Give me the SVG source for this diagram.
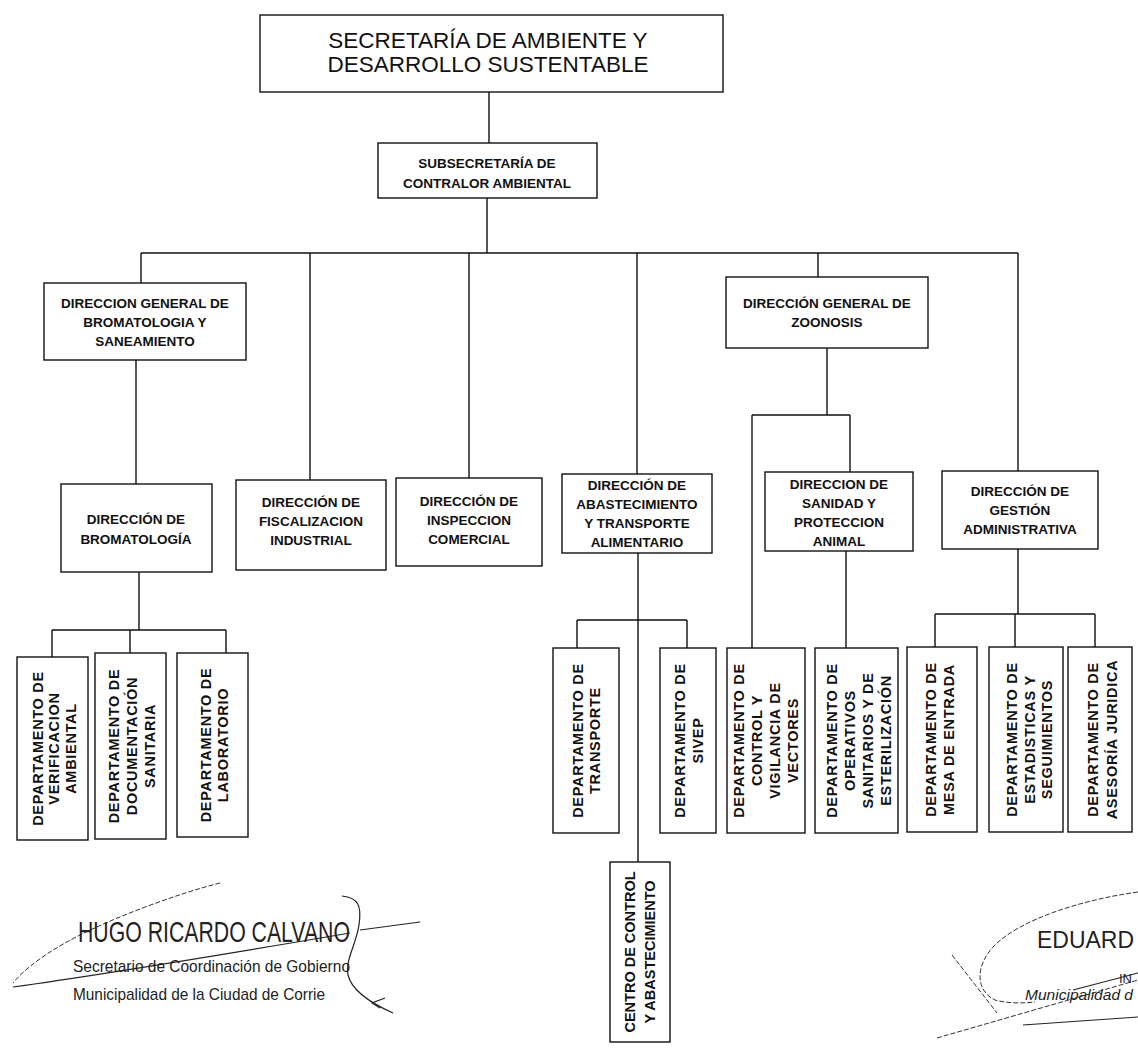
<svg xmlns="http://www.w3.org/2000/svg" width="1138" height="1048" viewBox="0 0 1138 1048">
<style>
.box{fill:#fff;stroke:#111;stroke-width:1.4}
.c{fill:none;stroke:#111;stroke-width:1.4}
.t{font-family:"Liberation Sans",Arial,sans-serif;font-weight:bold;font-size:13.5px;text-anchor:middle;fill:#111}
.v{font-size:14.5px;letter-spacing:0.7px}
.ti{font-family:"Liberation Sans",Arial,sans-serif;font-size:22.5px;text-anchor:middle;fill:#111}
.sg{font-family:"Liberation Sans",Arial,sans-serif;fill:#222}
.s{fill:none;stroke:#222;stroke-width:1.2}
.sd{fill:none;stroke:#333;stroke-width:1;stroke-dasharray:5 2}
</style>
<rect width="1138" height="1048" fill="#fff"/>
<g id="connectors">
<path class="c" d="M489,92 V143"/>
<path class="c" d="M487,198 V253"/>
<path class="c" d="M141,253 H1018"/>
<path class="c" d="M141,253 V283"/>
<path class="c" d="M310,253 V480"/>
<path class="c" d="M469,253 V478"/>
<path class="c" d="M637,253 V474"/>
<path class="c" d="M818,253 V277"/>
<path class="c" d="M1018,253 V471"/>
<path class="c" d="M136,360 V484"/>
<path class="c" d="M139,572 V630 M52,630 H226 M52,630 V657 M130,630 V653 M226,630 V653"/>
<path class="c" d="M638,553 V862 M577,620 H687 M577,620 V648 M687,620 V648"/>
<path class="c" d="M827,348 V415 M752,415 H850 M752,415 V648 M850,415 V472"/>
<path class="c" d="M846,551 V648"/>
<path class="c" d="M1018,549 V614 M935,614 H1095 M935,614 V647 M1015,614 V647 M1095,614 V647"/>
</g>
<g id="secretaria">
<rect class="box" x="260" y="15" width="463" height="77"/>
<text class="ti" x="488" y="48">SECRETARÍA DE AMBIENTE Y</text>
<text class="ti" x="488" y="72">DESARROLLO SUSTENTABLE</text>
</g>
<g id="subsecretaria">
<rect class="box" x="378" y="143" width="219" height="55"/>
<text class="t" x="487" y="168">SUBSECRETARÍA DE</text>
<text class="t" x="487" y="188">CONTRALOR AMBIENTAL</text>
</g>
<g id="dg-bromatologia">
<rect class="box" x="44" y="283" width="202" height="77"/>
<text class="t" x="145" y="308">DIRECCION GENERAL DE</text>
<text class="t" x="145" y="327">BROMATOLOGIA Y</text>
<text class="t" x="145" y="346">SANEAMIENTO</text>
</g>
<g id="dg-zoonosis">
<rect class="box" x="726" y="277" width="202" height="71"/>
<text class="t" x="827" y="308">DIRECCIÓN GENERAL DE</text>
<text class="t" x="827" y="327">ZOONOSIS</text>
</g>
<g id="dir-bromatologia">
<rect class="box" x="61" y="484" width="151" height="88"/>
<text class="t" x="136" y="524">DIRECCIÓN DE</text>
<text class="t" x="136" y="544">BROMATOLOGÍA</text>
</g>
<g id="dir-fiscalizacion">
<rect class="box" x="236" y="480" width="150" height="90"/>
<text class="t" x="311" y="507">DIRECCIÓN DE</text>
<text class="t" x="311" y="526">FISCALIZACION</text>
<text class="t" x="311" y="545">INDUSTRIAL</text>
</g>
<g id="dir-inspeccion">
<rect class="box" x="396" y="478" width="146" height="88"/>
<text class="t" x="469" y="506">DIRECCIÓN DE</text>
<text class="t" x="469" y="525">INSPECCION</text>
<text class="t" x="469" y="544">COMERCIAL</text>
</g>
<g id="dir-abastecimiento">
<rect class="box" x="562" y="474" width="150" height="79"/>
<text class="t" x="637" y="490">DIRECCIÓN DE</text>
<text class="t" x="637" y="509">ABASTECIMIENTO</text>
<text class="t" x="637" y="528">Y TRANSPORTE</text>
<text class="t" x="637" y="547">ALIMENTARIO</text>
</g>
<g id="dir-sanidad">
<rect class="box" x="765" y="472" width="148" height="79"/>
<text class="t" x="839" y="489">DIRECCION DE</text>
<text class="t" x="839" y="508">SANIDAD Y</text>
<text class="t" x="839" y="527">PROTECCION</text>
<text class="t" x="839" y="546">ANIMAL</text>
</g>
<g id="dir-gestion">
<rect class="box" x="942" y="471" width="156" height="78"/>
<text class="t" x="1020" y="496">DIRECCIÓN DE</text>
<text class="t" x="1020" y="515">GESTIÓN</text>
<text class="t" x="1020" y="534">ADMINISTRATIVA</text>
</g>
<g id="dep-verificacion">
<rect class="box" x="17" y="657" width="71" height="183"/>
<g transform="translate(52.5,748.5) rotate(-90)"><text class="t v" y="-10">DEPARTAMENTO DE</text><text class="t v" y="6">VERIFICACION</text><text class="t v" y="23">AMBIENTAL</text></g>
</g>
<g id="dep-documentacion">
<rect class="box" x="95" y="653" width="71" height="186"/>
<g transform="translate(130.5,746) rotate(-90)"><text class="t v" y="-12">DEPARTAMENTO DE</text><text class="t v" y="6">DOCUMENTACIÓN</text><text class="t v" y="24">SANITARIA</text></g>
</g>
<g id="dep-laboratorio">
<rect class="box" x="177" y="653" width="71" height="184"/>
<g transform="translate(212.5,745) rotate(-90)"><text class="t v" y="-2">DEPARTAMENTO DE</text><text class="t v" y="15">LABORATORIO</text></g>
</g>
<g id="dep-transporte">
<rect class="box" x="553" y="648" width="66" height="185"/>
<g transform="translate(586,740.5) rotate(-90)"><text class="t v" y="-3">DEPARTAMENTO DE</text><text class="t v" y="14">TRANSPORTE</text></g>
</g>
<g id="dep-sivep">
<rect class="box" x="660" y="648" width="56" height="185"/>
<g transform="translate(688,740.5) rotate(-90)"><text class="t v" y="-3">DEPARTAMENTO DE</text><text class="t v" y="15">SIVEP</text></g>
</g>
<g id="dep-control-vectores">
<rect class="box" x="727" y="648" width="78" height="185"/>
<g transform="translate(766,740.5) rotate(-90)"><text class="t v" y="-22">DEPARTAMENTO DE</text><text class="t v" y="-4">CONTROL Y</text><text class="t v" y="14">VIGILANCIA DE</text><text class="t v" y="32">VECTORES</text></g>
</g>
<g id="dep-operativos">
<rect class="box" x="815" y="648" width="83" height="185"/>
<g transform="translate(856.5,740.5) rotate(-90)"><text class="t v" y="-20">DEPARTAMENTO DE</text><text class="t v" y="-2">OPERATIVOS</text><text class="t v" y="16">SANITARIOS Y DE</text><text class="t v" y="34">ESTERILIZACIÓN</text></g>
</g>
<g id="dep-mesa">
<rect class="box" x="907" y="647" width="70" height="185"/>
<g transform="translate(942,739.5) rotate(-90)"><text class="t v" y="-6">DEPARTAMENTO DE</text><text class="t v" y="12">MESA DE ENTRADA</text></g>
</g>
<g id="dep-estadisticas">
<rect class="box" x="989" y="647" width="74" height="185"/>
<g transform="translate(1026,739.5) rotate(-90)"><text class="t v" y="-9">DEPARTAMENTO DE</text><text class="t v" y="9">ESTADISTICAS Y</text><text class="t v" y="26">SEGUIMIENTOS</text></g>
</g>
<g id="dep-asesoria">
<rect class="box" x="1068" y="647" width="64" height="185"/>
<g transform="translate(1100,739.5) rotate(-90)"><text class="t v" y="-2">DEPARTAMENTO DE</text><text class="t v" y="17">ASESORÍA JURIDICA</text></g>
</g>
<g id="centro-control">
<rect class="box" x="610" y="862" width="60" height="180"/>
<g transform="translate(640,952) rotate(-90)"><text class="t" style="font-size:14.5px" y="-5">CENTRO DE CONTROL</text><text class="t" style="font-size:14.5px" y="15">Y ABASTECIMIENTO</text></g>
</g>
<g id="firma-izquierda">
<path class="sd" d="M220,883 C180,893 120,915 80,935 C50,950 25,968 13,983"/>
<path class="s" d="M13,987 C100,975 250,950 350,933"/>
<path class="s" d="M342,896 C358,898 362,905 359,925 C356,945 345,960 348,975 C352,992 375,1005 393,1013"/>
<path class="s" d="M360,930 L420,922"/>
<path class="s" d="M385,998 L372,1003 L380,1008"/>
<text class="sg" x="78" y="942" font-size="30" textLength="272" lengthAdjust="spacingAndGlyphs">HUGO RICARDO CALVANO</text>
<text class="sg" x="73" y="972" font-size="17" textLength="277" lengthAdjust="spacingAndGlyphs">Secretario de Coordinación de Gobierno</text>
<text class="sg" x="73" y="1000" font-size="17" textLength="252" lengthAdjust="spacingAndGlyphs">Municipalidad de la Ciudad de Corrie</text>
</g>
<g id="firma-derecha">
<path class="sd" d="M1138,892 C1080,900 1020,920 995,945 C975,965 975,990 995,1000 C1010,1004 1025,1003 1035,1002"/>
<path class="s" d="M1073,990 L1138,973"/>
<path class="sd" d="M937,1038 L1138,980"/>
<path class="s" d="M1023,1025 L1138,1017"/>
<path class="sd" d="M952,955 L997,1013" stroke-width="0.7"/>
<text class="sg" x="1037" y="948" font-size="23" textLength="97" lengthAdjust="spacingAndGlyphs">EDUARD</text>
<text class="sg" x="1119" y="983" font-size="13">IN</text>
<text class="sg" x="1025" y="1000" font-size="15" font-style="italic" textLength="108" lengthAdjust="spacingAndGlyphs">Municipalidad d</text>
</g>
</svg>
